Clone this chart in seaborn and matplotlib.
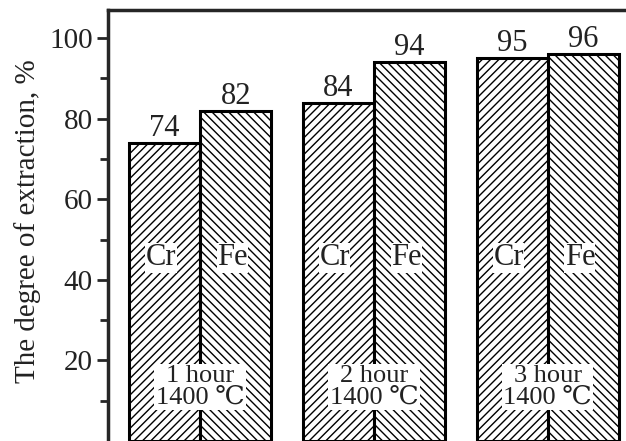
import numpy as np
import pandas as pd
import seaborn as sns
import matplotlib.pyplot as plt

# values
groups = ['1 hour', '2 hour', '3 hour']
metals = ['Cr', 'Fe']
cr_vals = [74, 84, 95]
fe_vals = [82, 94, 96]
temp_label = '1400 ℃'

df = pd.DataFrame({
    'group': groups * 2,
    'metal': ['Cr'] * 3 + ['Fe'] * 3,
    'value': cr_vals + fe_vals,
})

sns.set_style('ticks')
plt.rcParams['font.family'] = ['Liberation Serif', 'DejaVu Serif']
plt.rcParams['hatch.color'] = 'black'
plt.rcParams['hatch.linewidth'] = 1.0

fig = plt.figure(figsize=(6.26, 4.41), dpi=100)
ax = fig.add_axes([108 / 626, 0, 518 / 626, 431 / 441])

sns.barplot(data=df, x='group', y='value', hue='metal', hue_order=metals,
            width=0.82, color='white', edgecolor='black', linewidth=2.2,
            legend=False, ax=ax)

hatches = ['////', '\\\\\\\\']
for cont, h, name in zip(ax.containers, hatches, metals):
    for p in cont:
        p.set_facecolor('white')
        p.set_hatch(h)
        p.set_edgecolor('black')
        cx = p.get_x() + p.get_width() / 2
        ax.text(cx - 0.02, 45.5, name, ha='center', va='center', fontsize=22,
                color='#222222', zorder=5,
                bbox=dict(facecolor='white', edgecolor='none', pad=0.3))
    ax.bar_label(cont, fontsize=22, padding=0, color='#222222')

for i, g in enumerate(groups):
    ax.text(i, 13.5, g + '\n' + temp_label, ha='center', va='center',
            fontsize=19, linespacing=0.95, zorder=6, color='#222222',
            bbox=dict(facecolor='white', edgecolor='none', pad=1.0))

ax.set_xlim(-0.53, 2.45)
ax.set_ylim(0, 107)
ax.set_yticks([20, 40, 60, 80, 100])
ax.set_yticks([10, 30, 50, 70, 90], minor=True)
ax.tick_params(axis='y', which='major', direction='out', length=8, width=2,
               labelsize=21, pad=3, labelcolor='#222222')
ax.tick_params(axis='y', which='minor', direction='out', length=6, width=2)
ax.set_xticks([])
ax.set_xlabel('')
ax.set_ylabel('The degree of extraction, %', fontsize=21, color='#222222')
ax.yaxis.set_label_coords(-0.13, 0.51)

ax.spines['right'].set_visible(False)
ax.spines['bottom'].set_visible(False)
ax.spines['left'].set_linewidth(2.5)
ax.spines['top'].set_linewidth(2.5)

fig.savefig('out.png', dpi=100)
